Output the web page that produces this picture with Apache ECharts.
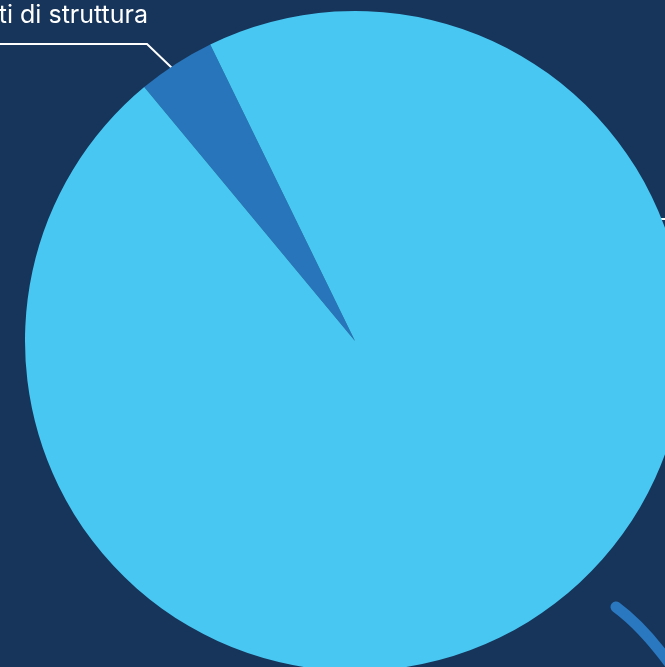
<!DOCTYPE html>
<html>
<head>
<meta charset="utf-8">
<style>
html,body{margin:0;padding:0;background:#17355a;}
#c{width:665px;height:667px;}
</style>
<script src="https://cdn.jsdelivr.net/npm/echarts@6/dist/echarts.min.js"></script>
</head>
<body>
<div id="c"></div>
<script>
const categories = ['Costi di struttura', 'Altri costi'];
const values = [3.8, 96.2];
const colors = ['#2875bb', '#48c7f3'];

const chart = echarts.init(document.getElementById('c'));
chart.setOption({
  backgroundColor: '#17355a',
  animation: false,
  graphic: [{
    type: 'bezierCurve',
    shape: {x1: 616, y1: 607, cpx1: 642, cpy1: 626, x2: 670, y2: 664},
    style: {stroke: '#2a78c0', lineWidth: 11, lineCap: 'round', fill: null},
    z: 1
  }],
  series: [{
    type: 'pie',
    center: [355, 341],
    radius: 330,
    startAngle: 129.7,
    clockwise: true,
    data: categories.map((n, i) => ({name: n, value: values[i], itemStyle: {color: colors[i]}})),
    label: {
      show: true,
      color: '#ffffff',
      fontFamily: 'Inter',
      fontSize: 25,
      overflow: 'none',
      width: 600,
      formatter: '{b}'
    },
    labelLine: {show: true, lineStyle: {color: '#ffffff', width: 2}},
    labelLayout: function (p) {
      if (p.dataIndex === 0) {
        return {x: 148, y: 15, align: 'right', verticalAlign: 'middle', width: 600,
          labelLinePoints: [[172, 68], [147, 44], [-60, 44]]};
      }
      return {x: 760, y: 219, align: 'left', verticalAlign: 'middle',
        labelLinePoints: [[660, 219], [700, 219], [755, 219]]};
    }
  }]
});
</script>
</body>
</html>
